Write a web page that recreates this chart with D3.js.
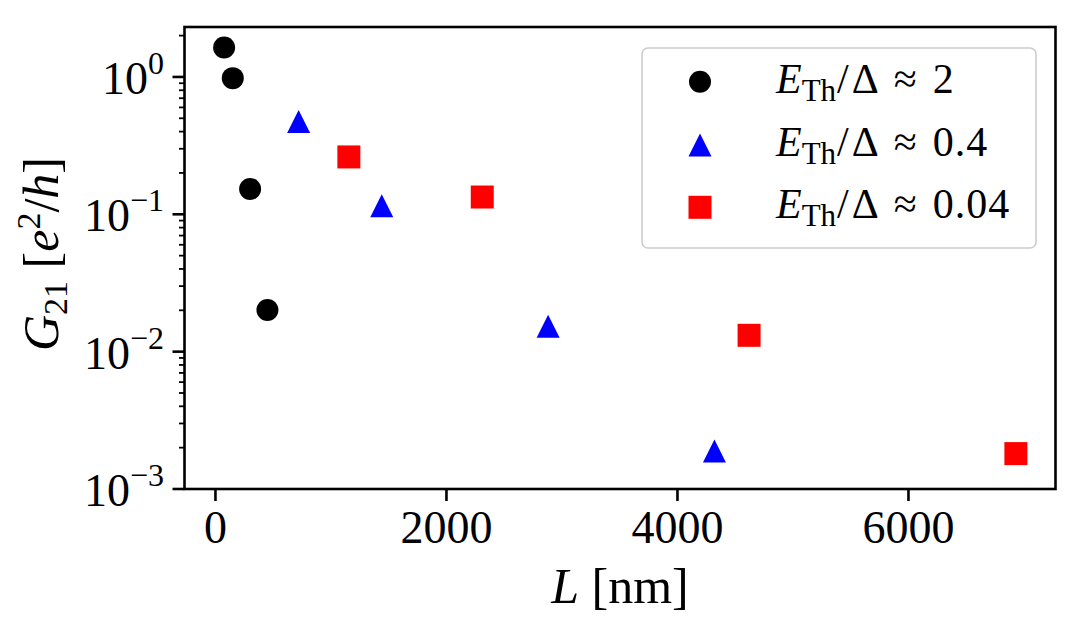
<!DOCTYPE html>
<html><head><meta charset="utf-8">
<script src="https://cdn.jsdelivr.net/npm/d3@7"></script>
<style>
html,body{margin:0;padding:0;background:#fff;}
svg{display:block;font-family:"Liberation Serif","DejaVu Serif",serif;}
</style></head>
<body>
<svg id="chart" width="1084" height="629"></svg>
<script>
// ---- data ----
const seriesLabels = ["2", "0.4", "0.04"];
const seriesColors = ["#000000", "#0000ff", "#ff0000"];
const seriesShapes = ["circle", "triangle", "square"];
const L_black = [75, 150, 300, 450];
const G_black = [1.64, 0.98, 0.153, 0.0201];
const L_blue = [720, 1440, 2880, 4320];
const G_blue = [0.473, 0.1156, 0.0153, 0.00189];
const L_red = [1155, 2310, 4620, 6930];
const G_red = [0.2616, 0.1336, 0.01315, 0.00181];
const xTicks = [0, 2000, 4000, 6000];
const yTickExps = [0, -1, -2, -3];

const series = [
  {L: L_black, G: G_black},
  {L: L_blue, G: G_blue},
  {L: L_red, G: G_red}
];

// ---- layout ----
const m = {left: 184.5, right: 1055.5, top: 27, bottom: 489};
const svg = d3.select("#chart");

const x = d3.scaleLinear().domain([-268, 7273]).range([m.left, m.right]);
const y = d3.scaleLog().domain([1e-3, 2.31]).range([m.bottom, m.top]);

// minor y ticks
const minor = [];
for (let e = -3; e <= 0; e++) for (let k = 2; k <= 9; k++) {
  const v = k * Math.pow(10, e);
  if (v <= 2.31) minor.push(v);
}
svg.append("g").selectAll("line").data(minor).join("line")
  .attr("x1", m.left - 5.5).attr("x2", m.left)
  .attr("y1", d => y(d)).attr("y2", d => y(d))
  .attr("stroke", "#000").attr("stroke-width", 1.8);

// major y ticks
const yMaj = yTickExps.map(e => Math.pow(10, e));
svg.append("g").selectAll("line").data(yMaj).join("line")
  .attr("x1", m.left - 12).attr("x2", m.left)
  .attr("y1", d => y(d)).attr("y2", d => y(d))
  .attr("stroke", "#000").attr("stroke-width", 2.6);

const yl = svg.append("g").selectAll("text").data(yTickExps).join("text")
  .attr("x", 164).attr("y", e => y(Math.pow(10, e)) + 17)
  .attr("text-anchor", "end").attr("font-size", 46).attr("fill", "#000");
yl.append("tspan").text("10");
yl.append("tspan").attr("dy", -20).attr("font-size", 32)
  .text(e => e === 0 ? "0" : "\u2212" + Math.abs(e));

// x ticks
svg.append("g").selectAll("line").data(xTicks).join("line")
  .attr("x1", d => x(d)).attr("x2", d => x(d))
  .attr("y1", m.bottom).attr("y2", m.bottom + 12)
  .attr("stroke", "#000").attr("stroke-width", 2.6);
svg.append("g").selectAll("text").data(xTicks).join("text")
  .attr("x", d => x(d)).attr("y", 543)
  .attr("text-anchor", "middle").attr("font-size", 46).attr("fill", "#000")
  .text(d => d);

// frame
svg.append("rect")
  .attr("x", m.left).attr("y", m.top)
  .attr("width", m.right - m.left).attr("height", m.bottom - m.top)
  .attr("fill", "none").attr("stroke", "#000").attr("stroke-width", 2.6);

// marker path
function markerPath(shape) {
  if (shape === "circle") return d3.symbol().type(d3.symbolCircle).size(Math.PI * 11 * 11)();
  if (shape === "triangle") return "M0,-11.5L11.5,11.5L-11.5,11.5Z";
  return "M-11.5,-11.5H11.5V11.5H-11.5Z";
}

// points
series.forEach((s, i) => {
  const pts = s.L.map((l, j) => ({l, g: s.G[j]}));
  svg.append("g").selectAll("path").data(pts).join("path")
    .attr("d", markerPath(seriesShapes[i]))
    .attr("transform", d => `translate(${x(d.l)},${y(d.g)})`)
    .attr("fill", seriesColors[i]);
});

// legend
const lg = svg.append("g");
lg.append("rect").attr("x", 642).attr("y", 48).attr("width", 394).attr("height", 200)
  .attr("rx", 6).attr("fill", "#fff").attr("fill-opacity", 0.8)
  .attr("stroke", "#cccccc").attr("stroke-width", 1.6);
const rowY = [81.7, 145, 207.3];
seriesLabels.forEach((lab, i) => {
  lg.append("path").attr("d", markerPath(seriesShapes[i]))
    .attr("transform", `translate(700,${rowY[i]})`)
    .attr("fill", seriesColors[i]);
  const t = lg.append("text").attr("x", 776).attr("y", rowY[i] + 11)
    .attr("font-size", 42).attr("fill", "#000");
  t.append("tspan").attr("font-style", "italic").text("E");
  t.append("tspan").attr("font-size", 31).attr("dy", 8).text("Th");
  t.append("tspan").attr("dy", -8).attr("dx", 1).text("/");
  t.append("tspan").attr("dx", 3).text("\u0394");
  t.append("tspan").attr("dx", 15).text("\u2248");
  t.append("tspan").attr("dx", 16).attr("letter-spacing", 1).text(lab);
});

// axis labels
const xl = svg.append("text").attr("x", 620).attr("y", 603)
  .attr("text-anchor", "middle").attr("font-size", 50).attr("fill", "#000");
xl.append("tspan").attr("font-style", "italic").text("L");
xl.append("tspan").text(" [nm]");

const ylab = svg.append("text")
  .attr("transform", "translate(58,254) rotate(-90)")
  .attr("text-anchor", "middle").attr("font-size", 50).attr("fill", "#000");
ylab.append("tspan").attr("font-style", "italic").text("G");
ylab.append("tspan").attr("font-size", 34).attr("dy", 9).text("21");
ylab.append("tspan").attr("dy", -9).text(" [");
ylab.append("tspan").attr("font-style", "italic").text("e");
ylab.append("tspan").attr("font-size", 34).attr("dy", -18).text("2");
ylab.append("tspan").attr("dy", 18).text("/");
ylab.append("tspan").attr("font-style", "italic").text("h");
ylab.append("tspan").text("]");
</script>
</body></html>
